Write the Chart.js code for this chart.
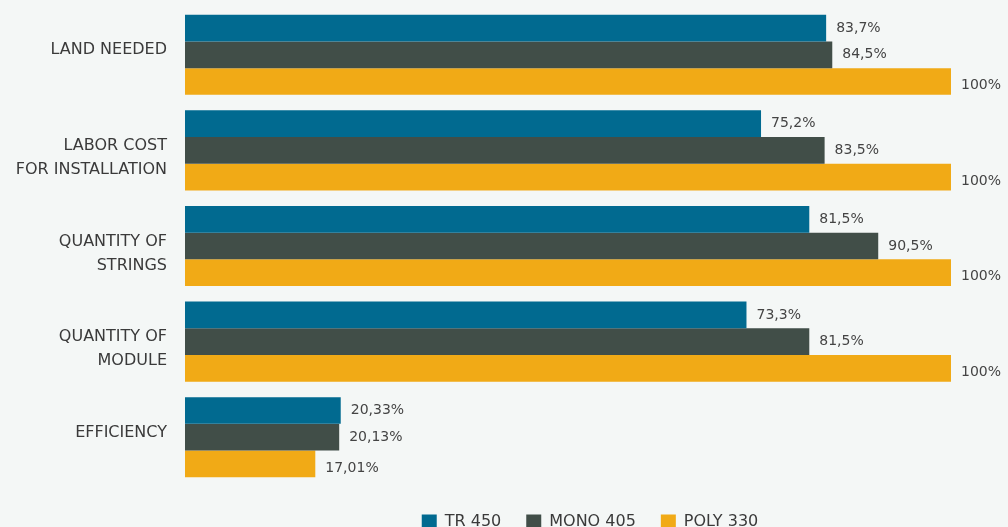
<!DOCTYPE html>
<html>
<head>
<meta charset="utf-8">
<script src="https://cdn.jsdelivr.net/npm/chart.js@4"></script>
<style>
  html, body { margin: 0; padding: 0; background: #f4f7f6; overflow: hidden; }
  .chart { position: relative; width: 1008px; height: 540px; }
</style>
</head>
<body>
<div class="chart"><canvas id="compare"></canvas></div>
<script>
const categories = [
  ['LAND NEEDED'],
  ['LABOR COST', 'FOR INSTALLATION'],
  ['QUANTITY OF', 'STRINGS'],
  ['QUANTITY OF', 'MODULE'],
  ['EFFICIENCY']
];
const seriesNames = ['TR 450', 'MONO 405', 'POLY 330'];
const tr450 = [83.7, 75.2, 81.5, 73.3, 20.33];
const mono405 = [84.5, 83.5, 90.5, 81.5, 20.13];
const poly330 = [100, 100, 100, 100, 17.01];
const seriesColors = ['#016a90', '#414e48', '#f1aa16'];

const FONT = '"DejaVu Sans", sans-serif';

// value text after each bar, comma as decimal mark
const valueLabels = {
  id: 'valueLabels',
  afterDatasetsDraw(chart) {
    const ctx = chart.ctx;
    const nudge = [0, 0, 4];
    ctx.save();
    ctx.font = '14px ' + FONT;
    ctx.fillStyle = '#444';
    ctx.textAlign = 'left';
    ctx.textBaseline = 'middle';
    chart.data.datasets.forEach((ds, di) => {
      chart.getDatasetMeta(di).data.forEach((bar, i) => {
        const txt = String(ds.data[i]).replace('.', ',') + '%';
        ctx.fillText(txt, bar.x + 10, bar.y + nudge[di]);
      });
    });
    ctx.restore();
  }
};

// legend sits a bit right of the plot centre
const legendShift = {
  id: 'legendShift',
  afterLayout(chart) {
    chart.legend.left += 22;
    chart.legend.right += 22;
  }
};

new Chart(document.getElementById('compare'), {
  type: 'bar',
  data: {
    labels: categories.map(c => c.join(' ')),
    datasets: [
      { label: seriesNames[0], data: tr450, backgroundColor: seriesColors[0] },
      { label: seriesNames[1], data: mono405, backgroundColor: seriesColors[1] },
      { label: seriesNames[2], data: poly330, backgroundColor: seriesColors[2] }
    ]
  },
  options: {
    indexAxis: 'y',
    responsive: true,
    maintainAspectRatio: false,
    animation: false,
    layout: { padding: { top: 7, right: 57, left: 0, bottom: 0 } },
    datasets: { bar: { categoryPercentage: 0.838, barPercentage: 1 } },
    scales: {
      x: {
        min: 0,
        max: 100,
        grid: { display: false },
        border: { display: false },
        ticks: { display: false },
        afterFit(scale) { scale.height = 4; }
      },
      y: {
        grid: { display: false, drawTicks: false },
        border: { display: false },
        ticks: {
          padding: 18,
          color: '#3a3a3a',
          labelOffset: 7.5,
          font: { family: FONT, size: 16, lineHeight: 1.5 },
          callback(v, i) {
            const lines = categories[i];
            return lines.length > 1 ? lines : [lines[0], ''];
          }
        },
        afterFit(scale) {
          scale.width = 185;
          scale.paddingTop = 0;
          scale.paddingBottom = 0;
        }
      }
    },
    plugins: {
      tooltip: { enabled: false },
      legend: {
        position: 'bottom',
        fullSize: false,
        labels: {
          boxWidth: 15,
          boxHeight: 15,
          padding: 25,
          color: '#3a3a3a',
          font: { family: FONT, size: 16 }
        }
      }
    }
  },
  plugins: [valueLabels, legendShift]
});
</script>
</body>
</html>
